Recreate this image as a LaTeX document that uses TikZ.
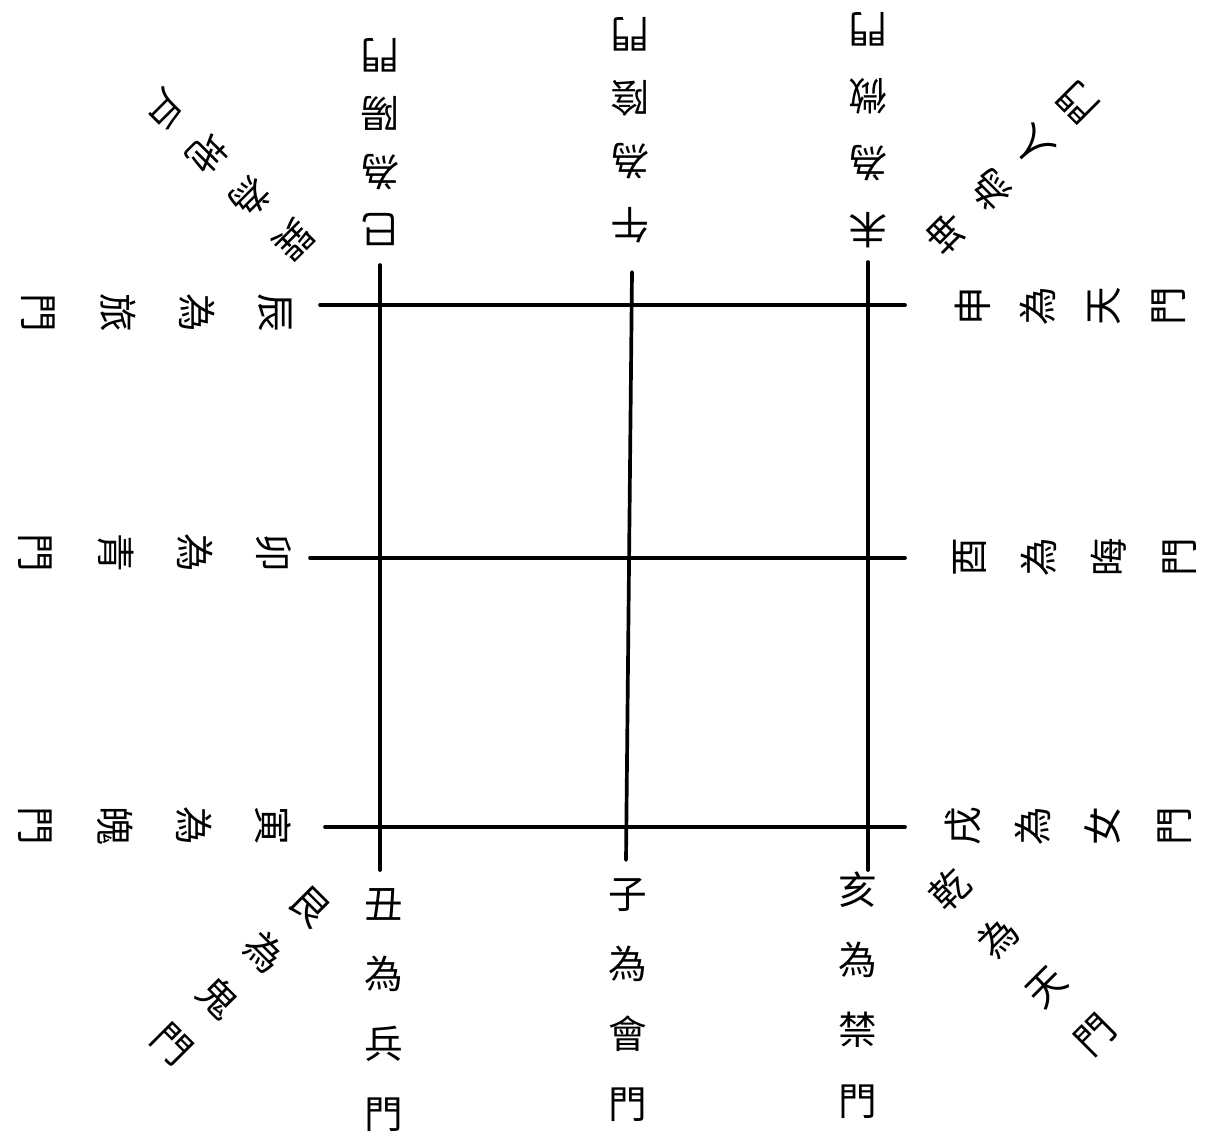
\documentclass[tikz,border=0pt]{standalone}
\usepackage{fontspec}
\newfontfamily\cjk{Noto Sans CJK TC}
\usetikzlibrary{positioning}
\tikzset{
  gridline/.style={line width=2.1pt, line cap=round},
  gate/.style 2 args={rotate=#1, inner sep=0pt, align=center,
    font=\cjk\fontsize{22}{#2}\selectfont},
}
\begin{document}
\begin{tikzpicture}[x=0.02cm, y=-0.02cm]
    \useasboundingbox (0,0) rectangle (1213,1138);

    % Ends of the three rows
    \coordinate (rowAw) at (320,305);  \coordinate (rowAe) at (905,305);
    \coordinate (rowBw) at (310,558);  \coordinate (rowBe) at (905,558);
    \coordinate (rowCw) at (325,827);  \coordinate (rowCe) at (905,827);
    % Ends of the three columns
    \coordinate (colAn) at (380,265);  \coordinate (colAs) at (380,870);
    \coordinate (colBn) at (632,272);  \coordinate (colBs) at (626,860);
    \coordinate (colCn) at (868,262);  \coordinate (colCs) at (868,870);

    \draw[gridline] (rowAw) -- (rowAe);
    \draw[gridline] (rowBw) -- (rowBe);
    \draw[gridline] (rowCw) -- (rowCe);
    \draw[gridline] (colAn) -- (colAs);
    \draw[gridline] (colBn) -- (colBs);
    \draw[gridline] (colCn) -- (colCs);

    % Top: read upwards, away from the grid
    \node[gate={180}{33pt}] (si)   at (380,142) {巳\\為\\陽\\門};
    \node[gate={180}{36pt}] (wu)   at (630,130) {午\\為\\陰\\門};
    \node[gate={180}{38pt}] (wei)  at (868,130) {未\\為\\微\\門};

    % Right side
    \node[gate={90}{37pt}]  (shen) at (1070,306) {申\\為\\天\\門};
    \node[gate={90}{40pt}]  (you)  at (1075,557) {酉\\為\\晦\\門};
    \node[gate={90}{40pt}]  (xu)   at (1068,826) {戌\\為\\女\\門};

    % Bottom
    \node[gate={0}{40pt}]   (chou) at (384,1010) {丑\\為\\兵\\門};
    \node[gate={0}{40pt}]   (zi)   at (628,1000) {子\\為\\會\\門};
    \node[gate={0}{40pt}]   (hai)  at (858,995)  {亥\\為\\禁\\門};

    % Left side
    \node[gate={-90}{45pt}] (chen) at (157,313) {辰\\為\\旅\\門};
    \node[gate={-90}{45pt}] (mao)  at (155,553) {卯\\為\\青\\門};
    \node[gate={-90}{45pt}] (yin)  at (155,826) {寅\\為\\魄\\門};

    % Corners
    \node[gate={225}{35pt}] (xun)  at (228,175)  {巽\\為\\地\\戶};
    \node[gate={135}{35pt}] (kun)  at (1012,168) {坤\\為\\人\\門};
    \node[gate={-45}{37pt}] (gen)  at (241,975)  {艮\\為\\鬼\\門};
    \node[gate={45}{39pt}]  (qian) at (1022,962) {乾\\為\\天\\門};
\end{tikzpicture}
\end{document}
